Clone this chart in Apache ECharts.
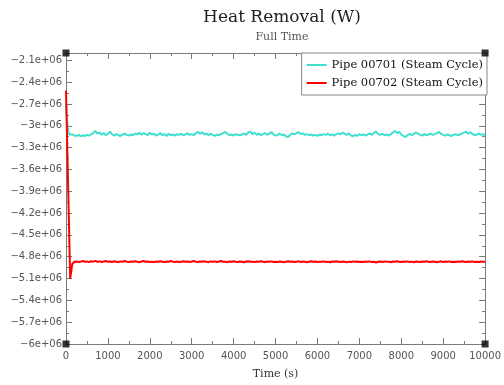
<!DOCTYPE html>
<html>
<head>
<meta charset="utf-8">
<title>Heat Removal (W)</title>
<script src="https://cdn.jsdelivr.net/npm/echarts@6/dist/echarts.min.js"></script>
<style>
  html, body { margin: 0; padding: 0; background: #fff; }
  #chart { width: 504px; height: 385px; }
</style>
</head>
<body>
<div id="chart"></div>
<script>
// Sample times (s)
const times = [
  0, 25, 50, 75,
  100, 150, 200, 250, 300, 350, 400, 450, 500, 550, 600, 650, 700, 750, 800, 850, 900, 950, 1000, 1050,
  1100, 1150, 1200, 1250, 1300, 1350, 1400, 1450, 1500, 1550, 1600, 1650, 1700, 1750, 1800, 1850, 1900, 1950, 2000, 2050,
  2100, 2150, 2200, 2250, 2300, 2350, 2400, 2450, 2500, 2550, 2600, 2650, 2700, 2750, 2800, 2850, 2900, 2950, 3000, 3050,
  3100, 3150, 3200, 3250, 3300, 3350, 3400, 3450, 3500, 3550, 3600, 3650, 3700, 3750, 3800, 3850, 3900, 3950, 4000, 4050,
  4100, 4150, 4200, 4250, 4300, 4350, 4400, 4450, 4500, 4550, 4600, 4650, 4700, 4750, 4800, 4850, 4900, 4950, 5000, 5050,
  5100, 5150, 5200, 5250, 5300, 5350, 5400, 5450, 5500, 5550, 5600, 5650, 5700, 5750, 5800, 5850, 5900, 5950, 6000, 6050,
  6100, 6150, 6200, 6250, 6300, 6350, 6400, 6450, 6500, 6550, 6600, 6650, 6700, 6750, 6800, 6850, 6900, 6950, 7000, 7050,
  7100, 7150, 7200, 7250, 7300, 7350, 7400, 7450, 7500, 7550, 7600, 7650, 7700, 7750, 7800, 7850, 7900, 7950, 8000, 8050,
  8100, 8150, 8200, 8250, 8300, 8350, 8400, 8450, 8500, 8550, 8600, 8650, 8700, 8750, 8800, 8850, 8900, 8950, 9000, 9050,
  9100, 9150, 9200, 9250, 9300, 9350, 9400, 9450, 9500, 9550, 9600, 9650, 9700, 9750, 9800, 9850, 9900, 9950, 10000
];

// Pipe 00701 (Steam Cycle) heat removal (W)
const pipe00701 = [
  -2.700e6, -2.920e6, -3.060e6, -3.120e6,
  -3.130e6, -3.120e6, -3.135e6, -3.140e6, -3.125e6, -3.145e6, -3.130e6, -3.140e6, -3.125e6, -3.135e6, -3.120e6, -3.100e6, -3.070e6, -3.110e6, -3.090e6, -3.125e6, -3.100e6, -3.130e6, -3.110e6, -3.080e6,
  -3.120e6, -3.135e6, -3.115e6, -3.130e6, -3.140e6, -3.120e6, -3.110e6, -3.125e6, -3.135e6, -3.120e6, -3.130e6, -3.105e6, -3.120e6, -3.095e6, -3.125e6, -3.100e6, -3.115e6, -3.130e6, -3.095e6, -3.120e6,
  -3.110e6, -3.135e6, -3.125e6, -3.100e6, -3.130e6, -3.115e6, -3.140e6, -3.110e6, -3.130e6, -3.120e6, -3.135e6, -3.115e6, -3.125e6, -3.110e6, -3.130e6, -3.120e6, -3.105e6, -3.125e6, -3.115e6, -3.130e6,
  -3.100e6, -3.085e6, -3.110e6, -3.090e6, -3.120e6, -3.105e6, -3.130e6, -3.110e6, -3.125e6, -3.140e6, -3.120e6, -3.130e6, -3.115e6, -3.100e6, -3.085e6, -3.110e6, -3.130e6, -3.120e6, -3.135e6, -3.115e6,
  -3.125e6, -3.130e6, -3.120e6, -3.105e6, -3.125e6, -3.090e6, -3.080e6, -3.115e6, -3.095e6, -3.125e6, -3.105e6, -3.130e6, -3.115e6, -3.100e6, -3.125e6, -3.110e6, -3.085e6, -3.120e6, -3.135e6, -3.125e6,
  -3.110e6, -3.130e6, -3.120e6, -3.145e6, -3.155e6, -3.125e6, -3.105e6, -3.120e6, -3.100e6, -3.090e6, -3.115e6, -3.105e6, -3.125e6, -3.115e6, -3.130e6, -3.120e6, -3.135e6, -3.125e6, -3.140e6, -3.120e6,
  -3.130e6, -3.115e6, -3.125e6, -3.110e6, -3.130e6, -3.120e6, -3.135e6, -3.115e6, -3.105e6, -3.120e6, -3.095e6, -3.110e6, -3.125e6, -3.105e6, -3.135e6, -3.145e6, -3.125e6, -3.140e6, -3.115e6, -3.130e6,
  -3.120e6, -3.135e6, -3.120e6, -3.105e6, -3.125e6, -3.095e6, -3.080e6, -3.115e6, -3.125e6, -3.110e6, -3.130e6, -3.120e6, -3.135e6, -3.115e6, -3.095e6, -3.070e6, -3.100e6, -3.085e6, -3.120e6, -3.140e6,
  -3.155e6, -3.130e6, -3.110e6, -3.130e6, -3.115e6, -3.090e6, -3.110e6, -3.125e6, -3.135e6, -3.115e6, -3.130e6, -3.120e6, -3.110e6, -3.125e6, -3.115e6, -3.100e6, -3.085e6, -3.110e6, -3.125e6, -3.135e6,
  -3.120e6, -3.130e6, -3.140e6, -3.125e6, -3.115e6, -3.130e6, -3.120e6, -3.105e6, -3.095e6, -3.080e6, -3.110e6, -3.090e6, -3.115e6, -3.130e6, -3.120e6, -3.110e6, -3.125e6, -3.115e6, -3.140e6
];

// Pipe 00702 (Steam Cycle) heat removal (W)
const pipe00702 = [
  -2.520e6, -3.165e6, -3.810e6, -4.455e6,
  -5.100e6, -4.900e6, -4.870e6, -4.865e6, -4.872e6, -4.868e6, -4.860e6, -4.870e6, -4.865e6, -4.875e6, -4.862e6, -4.868e6, -4.858e6, -4.870e6, -4.864e6, -4.872e6, -4.866e6, -4.860e6, -4.870e6, -4.865e6,
  -4.872e6, -4.862e6, -4.868e6, -4.875e6, -4.864e6, -4.870e6, -4.860e6, -4.868e6, -4.874e6, -4.865e6, -4.870e6, -4.862e6, -4.868e6, -4.876e6, -4.866e6, -4.860e6, -4.870e6, -4.865e6, -4.872e6, -4.868e6,
  -4.875e6, -4.866e6, -4.870e6, -4.862e6, -4.868e6, -4.874e6, -4.865e6, -4.870e6, -4.860e6, -4.868e6, -4.872e6, -4.866e6, -4.875e6, -4.868e6, -4.862e6, -4.870e6, -4.865e6, -4.872e6, -4.867e6, -4.860e6,
  -4.868e6, -4.874e6, -4.866e6, -4.870e6, -4.862e6, -4.868e6, -4.875e6, -4.865e6, -4.870e6, -4.864e6, -4.872e6, -4.866e6, -4.860e6, -4.870e6, -4.868e6, -4.875e6, -4.866e6, -4.870e6, -4.862e6, -4.868e6,
  -4.872e6, -4.865e6, -4.870e6, -4.876e6, -4.866e6, -4.862e6, -4.870e6, -4.868e6, -4.874e6, -4.865e6, -4.870e6, -4.862e6, -4.868e6, -4.875e6, -4.866e6, -4.870e6, -4.864e6, -4.872e6, -4.868e6, -4.874e6,
  -4.866e6, -4.870e6, -4.878e6, -4.868e6, -4.862e6, -4.870e6, -4.866e6, -4.874e6, -4.868e6, -4.864e6, -4.872e6, -4.866e6, -4.870e6, -4.876e6, -4.868e6, -4.862e6, -4.870e6, -4.866e6, -4.874e6, -4.868e6,
  -4.870e6, -4.864e6, -4.872e6, -4.868e6, -4.876e6, -4.866e6, -4.870e6, -4.862e6, -4.868e6, -4.874e6, -4.866e6, -4.870e6, -4.878e6, -4.868e6, -4.872e6, -4.864e6, -4.870e6, -4.866e6, -4.874e6, -4.868e6,
  -4.872e6, -4.866e6, -4.870e6, -4.864e6, -4.874e6, -4.868e6, -4.880e6, -4.870e6, -4.866e6, -4.872e6, -4.864e6, -4.870e6, -4.868e6, -4.876e6, -4.866e6, -4.870e6, -4.862e6, -4.868e6, -4.874e6, -4.866e6,
  -4.870e6, -4.864e6, -4.872e6, -4.868e6, -4.876e6, -4.866e6, -4.870e6, -4.874e6, -4.866e6, -4.870e6, -4.862e6, -4.868e6, -4.874e6, -4.866e6, -4.870e6, -4.876e6, -4.868e6, -4.864e6, -4.872e6, -4.866e6,
  -4.870e6, -4.864e6, -4.872e6, -4.868e6, -4.874e6, -4.866e6, -4.870e6, -4.862e6, -4.868e6, -4.874e6, -4.866e6, -4.870e6, -4.864e6, -4.872e6, -4.868e6, -4.874e6, -4.866e6, -4.870e6, -4.868e6
];

const seriesNames = ['Pipe 00701 (Steam Cycle)', 'Pipe 00702 (Steam Cycle)'];
const seriesColors = ['#40e0d0', '#ff0000'];

// Axis ranges and tick spacing
const xRange = [0, 10000];
const xStep = 1000;
const yRange = [-6e6, -2e6];
const yStep = 3e5;

// Frame corner markers
const frameCorners = [
  [xRange[0], yRange[1]], [xRange[1], yRange[1]],
  [xRange[0], yRange[0]], [xRange[1], yRange[0]]
];

// printf("%g")-style label, e.g. −2.1e+06
function sciLabel(v) {
  if (v === 0) return '0';
  const e = Math.floor(Math.log10(Math.abs(v)) + 1e-9);
  const m = Number((v / Math.pow(10, e)).toPrecision(6));
  const exp = (e < 0 ? '-' : '+') + String(Math.abs(e)).padStart(2, '0');
  return (String(m) + 'e' + exp).replace(/^-/, '\u2212');
}

const axisGrey = '#7a7a7a';
const sansFont = 'DejaVu Sans';
const serifFont = 'DejaVu Serif';

function xAxisCfg(pos, withLabels) {
  return {
    type: 'value', position: pos, min: xRange[0], max: xRange[1], interval: xStep,
    axisLine: { show: true, onZero: false, lineStyle: { color: axisGrey, width: 1 } },
    axisTick: { show: true, inside: true, length: 6, lineStyle: { color: axisGrey } },
    minorTick: { show: true, splitNumber: 2, length: 3, lineStyle: { color: axisGrey } },
    splitLine: { show: false },
    axisLabel: {
      show: withLabels, color: '#555', fontFamily: sansFont, fontSize: 10, margin: 7,
      formatter: v => String(v)
    },
    name: withLabels ? 'Time (s)' : '',
    nameLocation: 'middle', nameGap: 25,
    nameTextStyle: { fontFamily: serifFont, fontSize: 11, color: '#333' }
  };
}

function yAxisCfg(pos, withLabels) {
  return {
    type: 'value', position: pos, min: yRange[0], max: yRange[1], interval: yStep,
    axisLine: { show: true, onZero: false, lineStyle: { color: axisGrey, width: 1 } },
    axisTick: { show: true, inside: true, length: 6, lineStyle: { color: axisGrey } },
    minorTick: { show: true, splitNumber: 2, length: 3, lineStyle: { color: axisGrey } },
    splitLine: { show: false },
    axisLabel: {
      show: withLabels, color: '#555', fontFamily: sansFont, fontSize: 10, margin: 4,
      showMaxLabel: false,
      formatter: v => (v >= yRange[1] ? '' : sciLabel(v))
    }
  };
}

const chart = echarts.init(document.getElementById('chart'), null, { renderer: 'canvas' });

chart.setOption({
  animation: false,
  backgroundColor: '#fff',
  title: {
    text: 'Heat Removal (W)',
    subtext: 'Full Time',
    left: 277, textAlign: 'center', top: 4, itemGap: 6,
    textStyle: { fontFamily: serifFont, fontSize: 17, fontWeight: 'normal', color: '#222' },
    subtextStyle: { fontFamily: serifFont, fontSize: 11, color: '#555' }
  },
  legend: {
    data: seriesNames,
    orient: 'vertical',
    right: 17, top: 53,
    backgroundColor: '#fff',
    borderColor: '#888', borderWidth: 1, borderRadius: 0,
    padding: [6, 4, 6, 5],
    itemGap: 6, itemWidth: 20, itemHeight: 2,
    icon: 'rect',
    textStyle: { fontFamily: serifFont, fontSize: 11.5, color: '#111' }
  },
  grid: { left: 66, right: 17, top: 53, bottom: 36, containLabel: false },
  xAxis: [xAxisCfg('bottom', true), xAxisCfg('top', false)],
  yAxis: [yAxisCfg('left', true), yAxisCfg('right', false)],
  series: [
    {
      name: seriesNames[0], type: 'line', xAxisIndex: 0, yAxisIndex: 0,
      data: times.map((t, i) => [t, pipe00701[i]]),
      showSymbol: false, symbol: 'none',
      lineStyle: { color: seriesColors[0], width: 2 },
      itemStyle: { color: seriesColors[0] },
      z: 2
    },
    {
      name: seriesNames[1], type: 'line', xAxisIndex: 0, yAxisIndex: 0,
      data: times.map((t, i) => [t, pipe00702[i]]),
      showSymbol: false, symbol: 'none',
      lineStyle: { color: seriesColors[1], width: 2 },
      itemStyle: { color: seriesColors[1] },
      z: 3
    },
    {
      name: 'corners', type: 'scatter', xAxisIndex: 0, yAxisIndex: 0,
      data: frameCorners, symbol: 'rect', symbolSize: 7,
      itemStyle: { color: '#000' }, silent: true, clip: false, z: 10
    }
  ]
});
</script>
</body>
</html>
